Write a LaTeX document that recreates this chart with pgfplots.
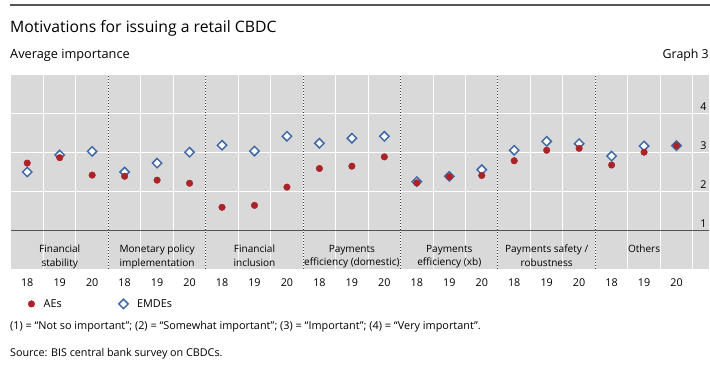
\documentclass[border=0pt]{standalone}
\usepackage{fontspec}
\setmainfont{Open Sans}
\usepackage{pgfplots}
\usepackage{pgfplotstable}
\pgfplotsset{compat=1.18}
\definecolor{bgg}{RGB}{217,217,217}
\definecolor{aered}{RGB}{170,35,40}
\definecolor{emblue}{RGB}{65,105,165}
\definecolor{dgray}{RGB}{85,85,85}
\definecolor{dotg}{RGB}{60,60,60}

\pgfplotstableread{
x ae em
0 2.73 2.50
1 2.87 2.94
2 2.42 3.03
3 2.39 2.50
4 2.29 2.73
5 2.21 3.01
6 1.59 3.19
7 1.64 3.04
8 2.11 3.42
9 2.59 3.24
10 2.65 3.37
11 2.89 3.42
12 2.22 2.25
13 2.38 2.39
14 2.41 2.56
15 2.79 3.06
16 3.06 3.29
17 3.11 3.23
18 2.68 2.91
19 3.01 3.17
20 3.18 3.18
}\data

\begin{document}
\begin{tikzpicture}
\useasboundingbox (0bp,0bp) rectangle (710bp,365bp);
\draw[dgray, line width=1.3bp] (10bp,360bp) -- (710bp,360bp);
\node[anchor=west, inner sep=0pt, font=\fontsize{15.8}{18}\selectfont] at (10bp,337bp) {Motivations for issuing a retail CBDC};
\node[anchor=west, inner sep=0pt, font=\fontsize{12.8}{15}\selectfont] at (10bp,310bp) {Average importance};
\node[anchor=east, inner sep=0pt, font=\fontsize{12.4}{15}\selectfont] at (709bp,310bp) {Graph 3};
\node[anchor=west, inner sep=0pt, font=\fontsize{10.9}{13}\selectfont] at (10bp,38bp) {(1) = “Not so important”; (2) = “Somewhat important”; (3) = “Important”; (4) = “Very important”.};
\node[anchor=west, inner sep=0pt, font=\fontsize{10.8}{13}\selectfont] at (10bp,11bp) {Source: BIS central bank survey on CBDCs.};
\begin{axis}[at={(11bp,96bp)}, anchor=south west, scale only axis, width=698bp, height=194bp,
  xmin=-0.5, xmax=21, ymin=0, ymax=5,
  axis line style={draw=none},
  axis background/.style={fill=bgg},
  xtick={0,...,20},
  xticklabels={18,19,20,18,19,20,18,19,20,18,19,20,18,19,20,18,19,20,18,19,20},
  minor xtick={0.5,1.5,...,20.5},
  xminorgrids, minor x grid style={white, line width=1bp},
  ytick={1,2,3,4}, ymajorgrids, major y grid style={white, line width=1bp},
  major tick length=0, minor tick length=0,
  xticklabel style={font=\fontsize{10.8}{12}\selectfont, yshift=-6bp},
  yticklabel pos=right,
  yticklabel style={font=\fontsize{10.8}{12}\selectfont, anchor=east, xshift=1bp, yshift=7bp},
  /pgf/number format/assume math mode=true,
  clip=false,
  legend columns=2,
  legend style={at={(axis description cs:0.02,-0.18)}, anchor=west, draw=none, fill=none,
    font=\fontsize{10.9}{12}\selectfont,
    /tikz/every odd column/.append style={column sep=7bp},
    /tikz/every even column/.append style={column sep=55bp}},
]
\addlegendimage{only marks, mark=*, color=aered, mark size=3.3bp}
\addlegendentry{AEs}
\addlegendimage{only marks, mark=square*, color=emblue, mark options={rotate=45, fill=white, draw=emblue, line width=1.5bp}, mark size=3.3bp}
\addlegendentry{EMDEs}
\draw[dgray, line width=1.2bp] (axis cs:-0.5,1) -- (axis cs:21,1);
\foreach \xx in {2.5,5.5,8.5,11.5,14.5,17.5} {
  \edef\tmp{\noexpand\draw[dotg, line width=1bp, dash pattern=on 1.2bp off 1.8bp] (axis cs:\xx,0) -- (axis cs:\xx,5);}
  \tmp
}
\addplot[forget plot, only marks, mark=square*, mark options={rotate=45, fill=white, draw=emblue, line width=1.5bp}, mark size=3.3bp] table[x=x, y=em] {\data};
\addplot[forget plot, only marks, mark=*, color=aered, mark size=3.3bp] table[x=x, y=ae] {\data};
\begin{scope}[every node/.style={align=center, anchor=north, font=\fontsize{10.1}{13.3}\selectfont, inner sep=0pt}]
\node at (axis cs:1,0.62) {Financial\\stability};
\node at (axis cs:4,0.62) {Monetary policy\\implementation};
\node at (axis cs:7,0.62) {Financial\\inclusion};
\node at (axis cs:10,0.62) {Payments\\efficiency (domestic)};
\node at (axis cs:13,0.62) {Payments\\efficiency (xb)};
\node at (axis cs:16,0.62) {Payments safety /\\robustness};
\node at (axis cs:19,0.62) {Others};
\end{scope}
\end{axis}
\end{tikzpicture}
\end{document}
